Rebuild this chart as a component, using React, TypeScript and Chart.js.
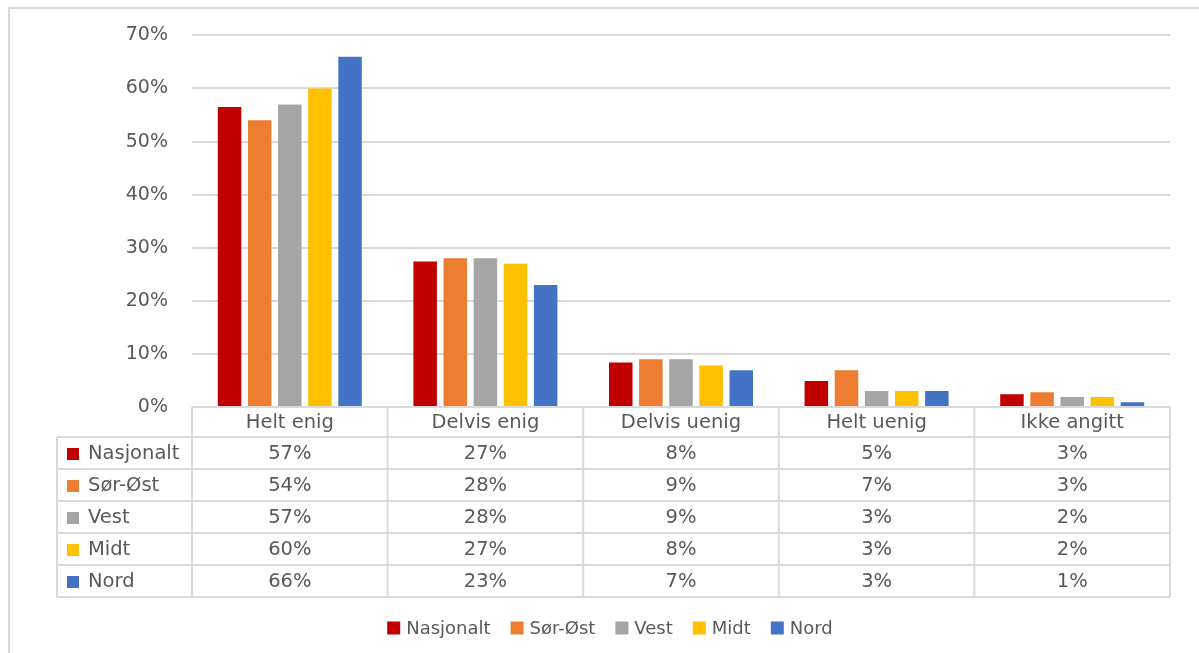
import React, { useEffect, useRef } from "react";
import { Chart, registerables } from "chart.js";

Chart.register(...registerables);

const categories = ["Helt enig", "Delvis enig", "Delvis uenig", "Helt uenig", "Ikke angitt"];
const seriesNames = ["Nasjonalt", "Sør-Øst", "Vest", "Midt", "Nord"];
const seriesColors = ["#C00000", "#ED7D31", "#A5A5A5", "#FFC000", "#4472C4"];

const nasjonalt = [56.5, 27.4, 8.4, 4.9, 2.4];
const sorOst = [54, 28, 9, 6.9, 2.8];
const vest = [57, 28, 9, 3, 1.9];
const midt = [60, 27, 7.8, 3, 1.9];
const nord = [66, 23, 6.9, 3, 0.9];

const tableNasjonalt = ["57%", "27%", "8%", "5%", "3%"];
const tableSorOst = ["54%", "28%", "9%", "7%", "3%"];
const tableVest = ["57%", "28%", "9%", "3%", "2%"];
const tableMidt = ["60%", "27%", "8%", "3%", "2%"];
const tableNord = ["66%", "23%", "7%", "3%", "1%"];

const yTicks = [0, 10, 20, 30, 40, 50, 60, 70];

const FONT = "'DejaVu Sans', sans-serif";
const TEXT = "#595959";
const LINE = "#D9D9D9";

const tablePlugin = {
  id: "tablePlugin",
  afterDraw(chart: any) {
    const ctx = chart.ctx;
    const area = chart.chartArea;
    const x = chart.scales.x;
    const rows = [tableNasjonalt, tableSorOst, tableVest, tableMidt, tableNord];
    const headerH = 30;
    const rowH = 32;
    const labelLeft = 57;
    const top = area.bottom;
    const rowTop = top + headerH;
    const bottom = rowTop + rowH * rows.length;
    const n = categories.length;
    const colW = (area.right - area.left) / n;

    ctx.save();
    // frame
    ctx.strokeStyle = LINE;
    ctx.lineWidth = 2;
    ctx.beginPath();
    ctx.moveTo(9, 653);
    ctx.lineTo(9, 8);
    ctx.lineTo(1199, 8);
    ctx.stroke();

    // table lines
    ctx.beginPath();
    ctx.moveTo(area.left, top);
    ctx.lineTo(area.right, top);
    for (let r = 0; r <= rows.length; r++) {
      const y = rowTop + r * rowH;
      ctx.moveTo(labelLeft, y);
      ctx.lineTo(area.right, y);
    }
    for (let c = 0; c <= n; c++) {
      const xx = area.left + c * colW;
      ctx.moveTo(xx, top);
      ctx.lineTo(xx, bottom);
    }
    ctx.moveTo(labelLeft, rowTop);
    ctx.lineTo(labelLeft, bottom);
    ctx.stroke();

    ctx.fillStyle = TEXT;
    ctx.font = `19.5px ${FONT}`;
    ctx.textAlign = "center";
    ctx.textBaseline = "middle";
    categories.forEach((cat, i) => {
      const cx = x.getPixelForValue(i);
      ctx.fillText(cat, cx, top + headerH / 2 + 1);
    });
    rows.forEach((row, r) => {
      const cy = rowTop + r * rowH + rowH / 2 + 1;
      row.forEach((v, i) => {
        ctx.fillStyle = TEXT;
        ctx.textAlign = "center";
        ctx.fillText(v, x.getPixelForValue(i), cy);
      });
      ctx.fillStyle = seriesColors[r];
      ctx.fillRect(67, cy - 6, 12, 12);
      ctx.fillStyle = TEXT;
      ctx.textAlign = "left";
      ctx.fillText(seriesNames[r], 88, cy);
    });

    // legend
    ctx.font = `18px ${FONT}`;
    const box = 13;
    const gapBox = 6;
    const gapItem = 20;
    const widths = seriesNames.map((s) => ctx.measureText(s).width);
    const total = widths.reduce((a, w) => a + box + gapBox + w, 0) + gapItem * (seriesNames.length - 1);
    let lx = 610 - total / 2;
    const ly = 628;
    seriesNames.forEach((s, i) => {
      ctx.fillStyle = seriesColors[i];
      ctx.fillRect(lx, ly - box / 2, box, box);
      ctx.fillStyle = TEXT;
      ctx.textAlign = "left";
      ctx.fillText(s, lx + box + gapBox, ly + 1);
      lx += box + gapBox + widths[i] + gapItem;
    });
    ctx.restore();
  },
};

export default function App() {
  const ref = useRef<HTMLCanvasElement | null>(null);
  useEffect(() => {
    document.body.style.margin = "0";
    const values = [nasjonalt, sorOst, vest, midt, nord];
    const chart = new Chart(ref.current as HTMLCanvasElement, {
      type: "bar",
      data: {
        labels: categories,
        datasets: seriesNames.map((name, i) => ({
          label: name,
          data: values[i],
          backgroundColor: seriesColors[i],
          borderWidth: 0,
          categoryPercentage: 0.77,
          barPercentage: 0.78,
        })),
      },
      options: {
        animation: false,
        responsive: false,
        maintainAspectRatio: false,
        layout: { padding: { left: 20, right: 29, top: 31, bottom: 246 } },
        plugins: {
          legend: { display: false },
          tooltip: { enabled: false },
        },
        scales: {
          x: { display: false },
          y: {
            min: 0,
            max: 70,
            afterFit(scale: any) {
              scale.width = 172;
            },
            afterBuildTicks(scale: any) {
              scale.ticks = yTicks.map((v) => ({ value: v }));
            },
            border: { display: false },
            grid: { color: LINE, lineWidth: 2, drawTicks: false },
            ticks: {
              color: TEXT,
              padding: 24,
              font: { family: FONT, size: 19 },
              callback: (v: any) => `${v}%`,
            },
          },
        },
      },
      plugins: [tablePlugin],
    });
    return () => chart.destroy();
  }, []);
  return <canvas ref={ref} width={1199} height={653} style={{ display: "block" }} />;
}
